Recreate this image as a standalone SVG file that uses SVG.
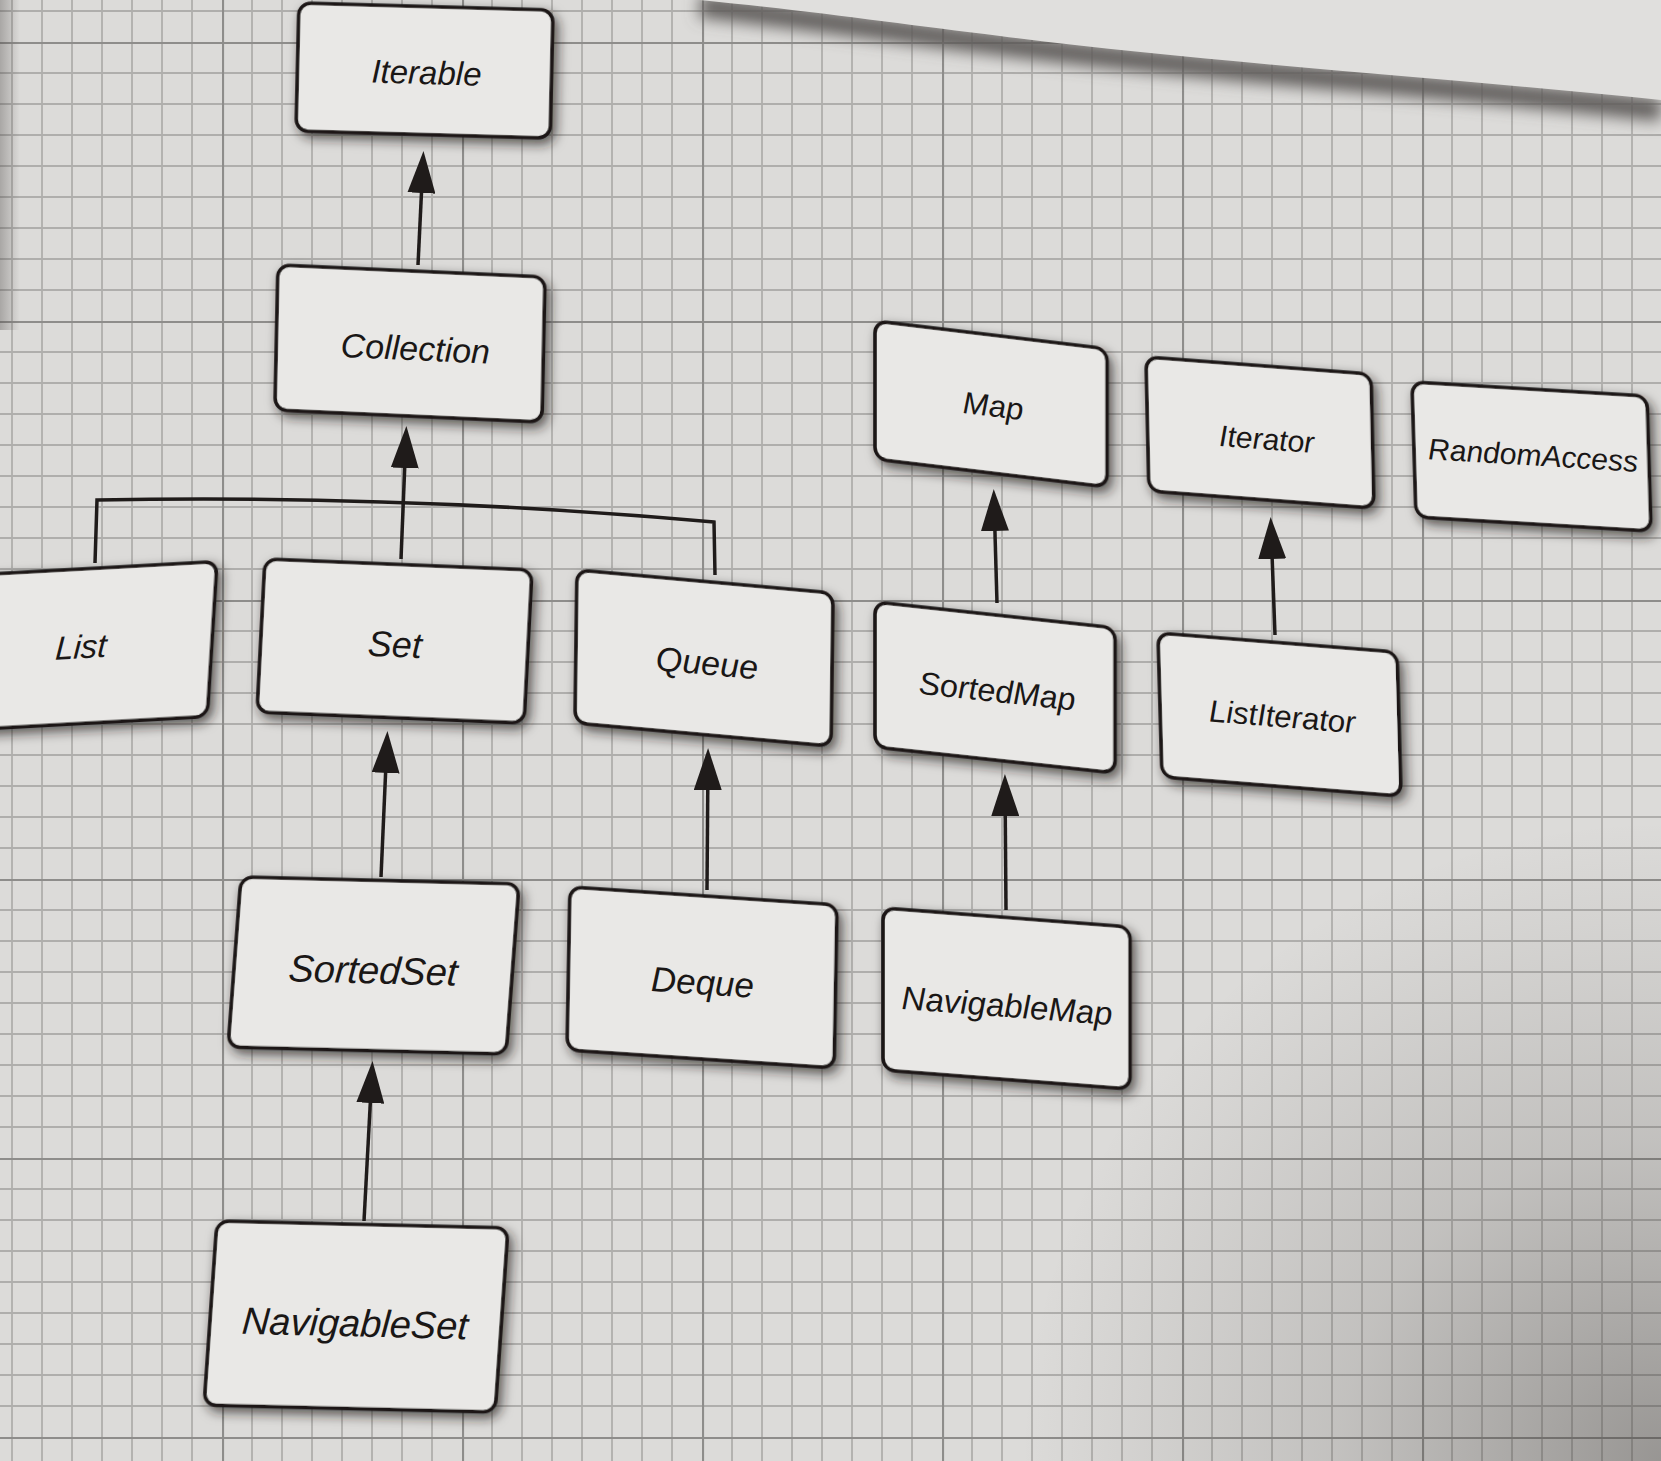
<svg xmlns="http://www.w3.org/2000/svg" width="1661" height="1461" viewBox="0 0 1661 1461">
  <style>
    .node rect { fill: #e9e8e6; stroke: #1c1817; stroke-width: 3.6; filter: url(#soft); }
    .node text { font-family: "Liberation Sans", Arial, sans-serif; font-style: italic; text-anchor: middle; dominant-baseline: central; fill: #1a1716; }
    .link { fill: none; stroke: #1f1b1a; stroke-width: 3.5; }
  </style>
  <defs>
    <!-- squared paper: minor cells with a heavier rule every few cells -->
    <pattern id="grid" patternUnits="userSpaceOnUse" x="222" y="42" width="240" height="279">
      <path d="M30,0V279M60,0V279M90,0V279M120,0V279M150,0V279M180,0V279M210,0V279M0,31H240M0,62H240M0,93H240M0,124H240M0,155H240M0,186H240M0,217H240M0,248H240" stroke="#afaeac" stroke-width="1.8" fill="none"/>
      <path d="M1,0V279M0,1H240" stroke="#8e8d8b" stroke-width="2.2" fill="none"/>
    </pattern>
    <radialGradient id="cornerShade" cx="1661" cy="1461" r="640" gradientUnits="userSpaceOnUse">
      <stop offset="0" stop-color="#3a3633" stop-opacity="0.42"/>
      <stop offset="0.5" stop-color="#3a3633" stop-opacity="0.16"/>
      <stop offset="1" stop-color="#3a3633" stop-opacity="0"/>
    </radialGradient>
    <linearGradient id="leftShade" x1="0" y1="0" x2="1" y2="0">
      <stop offset="0" stop-color="#4a4644" stop-opacity="0.35"/>
      <stop offset="1" stop-color="#4a4644" stop-opacity="0"/>
    </linearGradient>
    <filter id="blurEdge" x="-5%" y="-80%" width="110%" height="260%">
      <feGaussianBlur stdDeviation="8"/>
    </filter>
    <filter id="soft" x="-15%" y="-15%" width="135%" height="140%">
      <feGaussianBlur in="SourceAlpha" stdDeviation="6"/>
      <feOffset dx="4" dy="5" result="b"/>
      <feFlood flood-color="#221e1c" flood-opacity="0.7"/>
      <feComposite in2="b" operator="in"/>
      <feMerge><feMergeNode/><feMergeNode in="SourceGraphic"/></feMerge>
    </filter>
    <marker id="arrow" markerUnits="userSpaceOnUse" markerWidth="44" markerHeight="28" refX="32" refY="14" orient="auto">
      <path d="M0,0 L42,14 L0,28 Z" fill="#1f1b1a"/>
    </marker>
  </defs>

  <!-- paper -->
  <rect width="1661" height="1461" fill="#dcdbd9"/>
  <rect width="1661" height="1461" fill="url(#grid)"/>
  <rect width="1661" height="1461" fill="url(#cornerShade)"/>
  <rect width="20" height="330" fill="url(#leftShade)"/>
  <!-- curled top edge of the page -->
  <path d="M700,6 C820,20 900,32 1000,44 C1200,70 1450,86 1661,110" fill="none" stroke="#5e5c5a" stroke-width="22" filter="url(#blurEdge)"/>
  <path d="M700,0 C820,12 900,24 1000,36 C1200,62 1450,78 1661,100 L1661,0 Z" fill="#e0dfdd"/>

  <!-- interfaces -->
  <g id="node-iterable" class="node" transform="matrix(1,0.028,-0.023,1,299,3)">
    <rect width="254" height="128" rx="12"/>
    <text x="129" y="66" font-size="33">Iterable</text>
  </g>
  <g id="node-collection" class="node" transform="matrix(1,0.045,-0.021,1,278,265)">
    <rect width="267" height="145" rx="12"/>
    <text x="139" y="77" font-size="34">Collection</text>
  </g>
  <g id="node-list" class="node" transform="matrix(1,-0.055,-0.063,1,-45,576)">
    <rect width="262" height="155" rx="12"/>
    <text x="131" y="78" font-size="33">List</text>
  </g>
  <g id="node-set" class="node" transform="matrix(1,0.041,-0.052,1,265,559)">
    <rect width="267" height="153" rx="12"/>
    <text x="134" y="80" font-size="36">Set</text>
  </g>
  <g id="node-queue" class="node" transform="matrix(1,0.09,-0.013,1,577,570)">
    <rect width="256" height="153" rx="12"/>
    <text x="131" y="81" font-size="34">Queue</text>
  </g>
  <g id="node-map" class="node" transform="matrix(1,0.12,0,1,875,321)">
    <rect width="232" height="138" rx="12"/>
    <text x="118" y="71" font-size="31">Map</text>
  </g>
  <g id="node-iterator" class="node" transform="matrix(1,0.076,0.022,1,1146,357)">
    <rect width="225" height="134" rx="12"/>
    <text x="119" y="73" font-size="30">Iterator</text>
  </g>
  <g id="node-randomaccess" class="node" transform="matrix(1,0.06,0.03,1,1412,382)">
    <rect width="235" height="135" rx="12"/>
    <text x="119" y="66" font-size="30">RandomAccess</text>
  </g>
  <g id="node-sortedmap" class="node" transform="matrix(1,0.108,0,1,875,602)">
    <rect width="240" height="145" rx="12"/>
    <text x="122" y="76" font-size="32">SortedMap</text>
  </g>
  <g id="node-listiterator" class="node" transform="matrix(1,0.08,0.028,1,1158,633)">
    <rect width="239" height="144" rx="12"/>
    <text x="122" y="74" font-size="31">ListIterator</text>
  </g>
  <g id="node-sortedset" class="node" transform="matrix(1,0.025,-0.076,1,241,877)">
    <rect width="278" height="170" rx="12"/>
    <text x="139" y="90" font-size="38">SortedSet</text>
  </g>
  <g id="node-deque" class="node" transform="matrix(1,0.067,-0.018,1,570,887)">
    <rect width="267" height="163" rx="12"/>
    <text x="134" y="86" font-size="35">Deque</text>
  </g>
  <g id="node-navigableset" class="node" transform="matrix(1,0.024,-0.07,1,217,1221)">
    <rect width="291" height="184" rx="12"/>
    <text x="145" y="99" font-size="38">NavigableSet</text>
  </g>
  <g id="node-navigablemap" class="node" transform="matrix(1,0.077,0,1,883,908)">
    <rect width="247" height="162" rx="12"/>
    <text x="124" y="88" font-size="33">NavigableMap</text>
  </g>

  <!-- inheritance links -->
  <g id="connectors">
    <path class="link" d="M418,265 L423,161" marker-end="url(#arrow)"/>
    <path class="link" d="M401,559 L406,436" marker-end="url(#arrow)"/>
    <path class="link" d="M95,563 L97,500 C300,496 500,503 714,522 L715,575"/>
    <path class="link" d="M381,877 L387,741" marker-end="url(#arrow)"/>
    <path class="link" d="M707,890 L708,758" marker-end="url(#arrow)"/>
    <path class="link" d="M364,1221 L372,1071" marker-end="url(#arrow)"/>
    <path class="link" d="M997,603 L994,499" marker-end="url(#arrow)"/>
    <path class="link" d="M1006,910 L1005,784" marker-end="url(#arrow)"/>
    <path class="link" d="M1275,635 L1271,527" marker-end="url(#arrow)"/>
  </g>
</svg>
